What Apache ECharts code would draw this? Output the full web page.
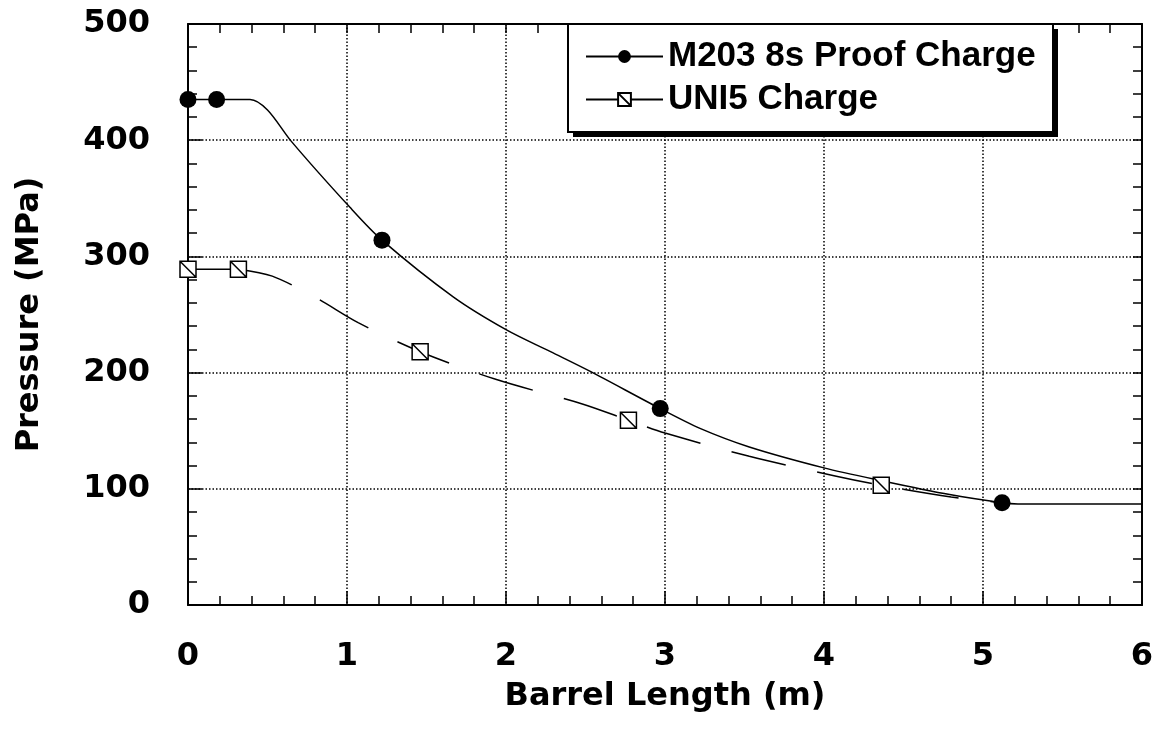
<!DOCTYPE html>
<html>
<head>
<meta charset="utf-8">
<script src="https://cdn.jsdelivr.net/npm/echarts@6/dist/echarts.min.js"></script>
<style>
html,body{margin:0;padding:0;background:#fff;}
#chart{width:1158px;height:738px;}
</style>
</head>
<body>
<div id="chart"></div>
<script>
// ---- data ----
const xTicks = [0, 1, 2, 3, 4, 5, 6];
const yTicks = [0, 100, 200, 300, 400, 500];
const m203Name = 'M203 8s Proof Charge';
const uni5Name = 'UNI5 Charge';
// M203 curve (solid line)
const m203Curve = [[0,435],[0.18,435],[0.39,435],[0.5,426],[0.65,399],[1.02,342],[1.22,314],[1.67,265],[2.0,237],[2.28,218],[2.53,201],[2.97,169],[3.22,152],[3.53,136],[4.0,118],[4.36,107],[4.79,95],[5.12,88],[5.22,87],[6,87]];
const m203MarkerX = [0, 0.18, 1.22, 2.97, 5.12];
// UNI5: solid segment then dashed curve
const uni5Solid = [[0,289],[0.317,289]];
const uni5Dashed = [[0.317,289],[0.53,283],[0.81,264],[1.07,243],[1.46,218],[1.94,194],[2.48,173],[2.77,159],[3.0,148],[3.53,128],[4.07,111],[4.36,103],[4.8,93],[5.12,88]];
const uni5MarkerX = [1.46, 2.77, 4.36];

const squareSym = 'path://M0,0L20,0L20,20L0,20Z M0,0L20,20';
const font = 'DejaVu Sans';

function withMarkers(points, markerX) {
  return points.map(p => markerX.indexOf(p[0]) >= 0 ? {value: p} : {value: p, symbol: 'none'});
}

const chart = echarts.init(document.getElementById('chart'), null, {renderer: 'canvas'});

const axisCommon = {
  axisLine: {show: true, onZero: false, lineStyle: {color: '#000', width: 2}},
  axisTick: {show: true, inside: true, length: 14, lineStyle: {color: '#000', width: 1.5}},
  minorTick: {show: true, splitNumber: 5, length: 9, lineStyle: {color: '#000', width: 1.5}}
};

const option = {
  backgroundColor: '#fff',
  animation: false,
  grid: {left: 188, right: 16, top: 24, bottom: 133, containLabel: false},
  graphic: [
    {type: 'rect', z: 2, shape: {x: 573, y: 29, width: 485, height: 108}, style: {fill: '#000'}},
    {type: 'rect', z: 3, shape: {x: 568, y: 24, width: 485, height: 108}, style: {fill: '#fff', stroke: '#000', lineWidth: 2}}
  ],
  legend: {
    orient: 'vertical',
    left: 568,
    top: 24,
    z: 10,
    padding: [15, 16, 14, 17],
    itemGap: 8,
    itemWidth: 77,
    itemHeight: 16,
    data: [m203Name, uni5Name],
    textStyle: {fontFamily: 'Liberation Sans', fontWeight: 'bold', fontSize: 35, color: '#000'}
  },
  xAxis: [{
    type: 'value', min: xTicks[0], max: xTicks[xTicks.length - 1], interval: 1,
    position: 'bottom',
    ...axisCommon,
    axisLabel: {show: true, margin: 36, fontFamily: font, fontWeight: 'bold', fontSize: 32, color: '#000'},
    splitLine: {show: true, lineStyle: {color: '#000', width: 1.5, type: [1.5, 2]}},
    name: 'Barrel Length (m)', nameLocation: 'middle', nameGap: 76,
    nameTextStyle: {fontFamily: font, fontWeight: 'bold', fontSize: 32, color: '#000'}
  }, {
    type: 'value', min: xTicks[0], max: xTicks[xTicks.length - 1], interval: 1,
    position: 'top',
    ...axisCommon,
    axisTick: {show: true, inside: true, length: 9, lineStyle: {color: '#000', width: 1.5}},
    axisLabel: {show: false}, splitLine: {show: false}
  }],
  yAxis: [{
    type: 'value', min: yTicks[0], max: yTicks[yTicks.length - 1], interval: 100,
    position: 'left',
    ...axisCommon,
    axisLabel: {show: true, margin: 38, fontFamily: font, fontWeight: 'bold', fontSize: 32, color: '#000'},
    splitLine: {show: true, lineStyle: {color: '#000', width: 1.5, type: [1.5, 2]}},
    name: 'Pressure (MPa)', nameLocation: 'middle', nameGap: 142, nameRotate: 90,
    nameTextStyle: {fontFamily: font, fontWeight: 'bold', fontSize: 32, color: '#000'}
  }, {
    type: 'value', min: yTicks[0], max: yTicks[yTicks.length - 1], interval: 100,
    position: 'right',
    ...axisCommon,
    axisTick: {show: true, inside: true, length: 9, lineStyle: {color: '#000', width: 1.5}},
    axisLabel: {show: false}, splitLine: {show: false}
  }],
  series: [
    {
      name: m203Name, type: 'line',
      data: withMarkers(m203Curve, m203MarkerX),
      smooth: 0.3,
      symbol: 'circle', symbolSize: 17, showAllSymbol: true,
      lineStyle: {color: '#000', width: 1.5},
      itemStyle: {color: '#000', borderColor: '#000', borderWidth: 0},
      z: 3
    },
    {
      name: uni5Name, type: 'line',
      data: uni5Solid,
      symbol: squareSym, symbolSize: 16, showAllSymbol: true,
      lineStyle: {color: '#000', width: 1.5},
      itemStyle: {color: '#fff', borderColor: '#000', borderWidth: 1.5},
      z: 4
    },
    {
      name: uni5Name, type: 'line',
      data: withMarkers(uni5Dashed, uni5MarkerX),
      smooth: 0.3,
      symbol: squareSym, symbolSize: 16, showAllSymbol: true,
      lineStyle: {color: '#000', width: 1.5, type: [56, 32]},
      itemStyle: {color: '#fff', borderColor: '#000', borderWidth: 1.5},
      z: 4
    }
  ]
};
chart.setOption(option);
</script>
</body>
</html>
